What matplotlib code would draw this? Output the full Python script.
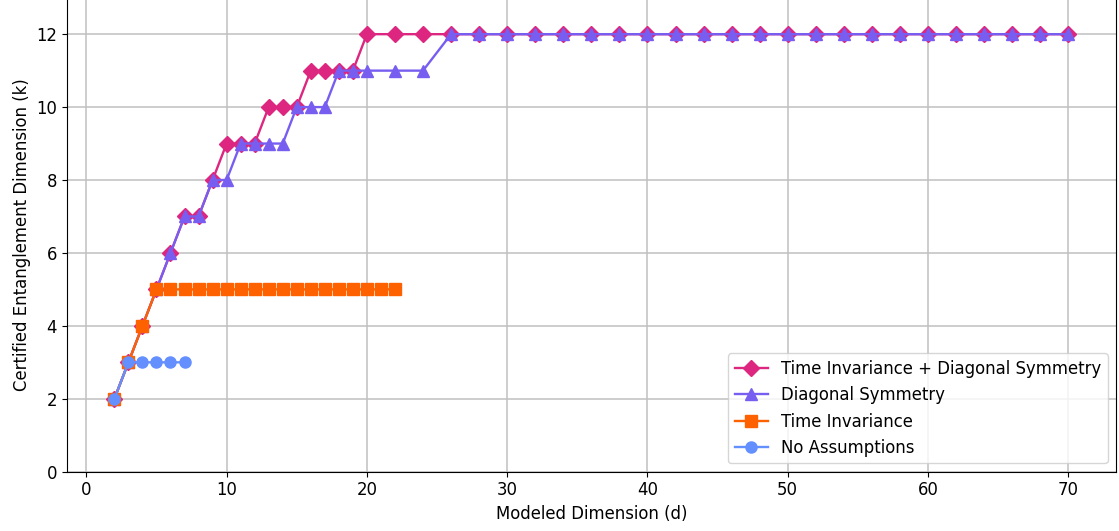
import matplotlib
matplotlib.use('Agg')
import matplotlib.pyplot as plt

# ------------------------------------------------------------
# data
# ------------------------------------------------------------
d_full = list(range(2, 21)) + list(range(22, 71, 2))
k_ti_ds = [2, 3, 4, 5, 6, 7, 7, 8, 9, 9, 9, 10, 10, 10, 11, 11, 11, 11, 12] + [12] * 25
k_ds = [2, 3, 4, 5, 6, 7, 7, 8, 8, 9, 9, 9, 9, 10, 10, 10, 11, 11, 11] + [11, 11] + [12] * 23

d_ti = list(range(2, 23))
k_ti = [2, 3, 4, 5] + [5] * 17

d_na = [2, 3, 4, 5, 6, 7]
k_na = [2, 3, 3, 3, 3, 3]

labels = ['Time Invariance + Diagonal Symmetry', 'Diagonal Symmetry',
          'Time Invariance', 'No Assumptions']

# colours (IBM colour-blind palette)
C_TI_DS = '#DC267F'
C_DS = '#785EF0'
C_TI = '#FE6100'
C_NA = '#648FFF'

plt.rcParams['font.size'] = 11.9

fig = plt.figure(figsize=(11.19, 5.31), dpi=100)
ax = fig.add_axes([0.0596, 0.1117, 0.9377, 0.8926])

lw = 1.7
ms = 8
ax.plot(d_full, k_ti_ds, marker='D', color=C_TI_DS, lw=lw, ms=ms, label=labels[0])
ax.plot(d_full, k_ds, marker='^', color=C_DS, lw=lw, ms=ms, label=labels[1])
ax.plot(d_ti, k_ti, marker='s', color=C_TI, lw=lw, ms=ms, label=labels[2])
ax.plot(d_na, k_na, marker='o', color=C_NA, lw=lw, ms=ms, label=labels[3])

ax.set_xlim(-1.4, 73.4)
ax.set_ylim(0, 13)
ax.set_xticks(range(0, 71, 10))
ax.set_yticks(range(0, 13, 2))
ax.set_xlabel('Modeled Dimension (d)')
ax.set_ylabel('Certified Entanglement Dimension (k)')
ax.grid(True, color='#c0c0c0', lw=1.1)
ax.set_axisbelow(True)
ax.legend(loc='lower right')

fig.savefig('out.png', dpi=100)
